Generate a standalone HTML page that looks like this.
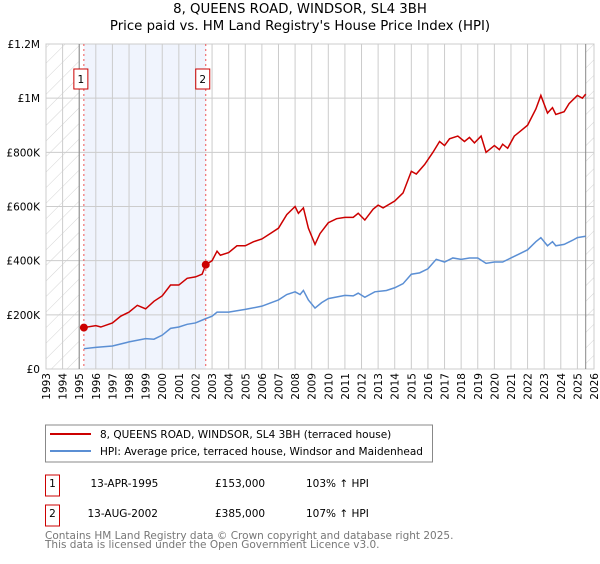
<!DOCTYPE html>
<html><head><meta charset="utf-8"><style>
body{margin:0;background:#fff;font-family:"DejaVu Sans","Liberation Sans",sans-serif;}
svg text{font-family:"DejaVu Sans","Liberation Sans",sans-serif;}
</style></head><body>
<svg width="600" height="560" xmlns="http://www.w3.org/2000/svg" id="c">
<defs><pattern id="hatch" width="11" height="11" patternUnits="userSpaceOnUse" patternTransform="rotate(45)"><line x1="0" y1="0" x2="0" y2="11" stroke="#d4d4d4" stroke-width="1"/></pattern></defs>
<text x="300" y="13" text-anchor="middle" font-size="13.3">8, QUEENS ROAD, WINDSOR, SL4 3BH</text>
<text x="300" y="30" text-anchor="middle" font-size="13.3">Price paid vs. HM Land Registry's House Price Index (HPI)</text>
<g id="plot"></g>
<g>
<rect x="45.5" y="425" width="387" height="37" fill="#fff" stroke="#888"/>
<line x1="50" y1="434" x2="91" y2="434" stroke="#cc0000" stroke-width="2"/>
<text x="100" y="438" font-size="10.5">8, QUEENS ROAD, WINDSOR, SL4 3BH (terraced house)</text>
<line x1="50" y1="451" x2="91" y2="451" stroke="#5b8fd4" stroke-width="2"/>
<text x="100" y="455" font-size="10.5">HPI: Average price, terraced house, Windsor and Maidenhead</text>
</g>
<g font-size="10.5">
<rect x="45.5" y="475" width="14" height="21" fill="none" stroke="#cc0000"/><text x="52.5" y="487" text-anchor="middle">1</text>
<text x="90.5" y="487">13-APR-1995</text><text x="215" y="487">£153,000</text><text x="306" y="487">103% ↑ HPI</text>
<rect x="45.5" y="505" width="14" height="21" fill="none" stroke="#cc0000"/><text x="52.5" y="517" text-anchor="middle">2</text>
<text x="87.5" y="517">13-AUG-2002</text><text x="215" y="517">£385,000</text><text x="306" y="517">107% ↑ HPI</text>
</g>
<text x="45" y="539" font-size="10.5" fill="#777">Contains HM Land Registry data © Crown copyright and database right 2025.</text>
<text x="45" y="548" font-size="10.5" fill="#777">This data is licensed under the Open Government Licence v3.0.</text>
</svg>
<script>
const yTicks=[0,200000,400000,600000,800000,1000000,1200000];
const yTickLabels=["£0","£200K","£400K","£600K","£800K","£1M","£1.2M"];
const years=[1993,1994,1995,1996,1997,1998,1999,2000,2001,2002,2003,2004,2005,2006,2007,2008,2009,2010,2011,2012,2013,2014,2015,2016,2017,2018,2019,2020,2021,2022,2023,2024,2025,2026];
const redT=[1995.28,1996,1996.3,1997,1997.5,1998,1998.5,1999,1999.5,2000,2000.5,2001,2001.5,2002,2002.4,2002.62,2003,2003.3,2003.5,2004,2004.5,2005,2005.5,2006,2006.5,2007,2007.5,2008,2008.2,2008.5,2008.8,2009.2,2009.5,2010,2010.5,2011,2011.5,2011.8,2012.2,2012.7,2013,2013.3,2014,2014.5,2015,2015.3,2015.8,2016.3,2016.7,2017,2017.3,2017.8,2018.2,2018.5,2018.8,2019.2,2019.5,2020,2020.3,2020.5,2020.8,2021.2,2021.5,2022,2022.5,2022.8,2023.2,2023.5,2023.7,2024.2,2024.5,2025,2025.3,2025.5];
const redV=[153,160,155,170,195,210,235,222,250,270,310,310,335,340,350,385,400,435,420,430,455,455,470,480,500,520,570,600,575,595,520,460,500,540,555,560,560,575,550,590,605,595,620,650,730,720,755,800,840,825,850,860,840,855,835,860,800,825,810,830,815,860,875,900,960,1010,945,965,940,950,980,1010,1000,1015];
const blueT=[1995.28,1996,1997,1998,1999,1999.5,2000,2000.5,2001,2001.5,2002,2002.62,2003,2003.3,2004,2005,2006,2007,2007.5,2008,2008.3,2008.5,2008.8,2009.2,2009.6,2010,2011,2011.5,2011.8,2012.2,2012.8,2013.5,2014,2014.5,2015,2015.5,2016,2016.5,2017,2017.5,2018,2018.5,2019,2019.5,2020,2020.5,2021,2021.5,2022,2022.5,2022.8,2023.2,2023.5,2023.7,2024.2,2024.7,2025,2025.5];
const blueV=[75,80,85,100,112,110,125,150,155,165,170,186,195,210,210,220,232,255,275,285,275,290,255,225,245,260,272,270,280,265,285,290,300,315,350,355,370,405,395,410,405,410,410,390,395,395,410,425,440,470,485,455,470,455,460,475,485,490];
const sales=[{t:1995.28,v:153000,n:"1"},{t:2002.62,v:385000,n:"2"}];
const X0=46,X1=594,Y0=369,Y1=44;
const x=t=>X0+(t-1993)/(2026-1993)*(X1-X0);
const y=v=>Y0-v/1200000*(Y0-Y1);
const ns="http://www.w3.org/2000/svg",g=document.getElementById('plot');
function mk(tag,a,p){const e=document.createElementNS(ns,tag);for(const k in a)e.setAttribute(k,a[k]);(p||g).appendChild(e);return e;}
let e;
e=mk('rect',{x:X0,y:Y1,width:X1-X0,height:Y0-Y1,fill:'#fff',stroke:'#ccc'});

e=mk('rect',{x:X0,y:Y1,width:x(1995)-X0,height:Y0-Y1,fill:'url(#hatch)'});

e=mk('rect',{x:x(2025.5),y:Y1,width:X1-x(2025.5),height:Y0-Y1,fill:'url(#hatch)'});

e=mk('rect',{x:x(sales[0].t),y:Y1,width:x(sales[1].t)-x(sales[0].t),height:Y0-Y1,fill:'#f0f4fd'});

years.forEach(yr=>{
 e=mk('line',{x1:x(yr),x2:x(yr),y1:Y1,y2:Y0,stroke:'#ccc','stroke-width':1});
 
 e=mk('text',{x:0,y:0,'font-size':10.5,'text-anchor':'end',transform:`translate(${x(yr)+4},${Y0+4}) rotate(-90)`});
 e.textContent=yr;
 
});
yTicks.forEach((v,i)=>{
 e=mk('line',{x1:X0,x2:X1,y1:y(v),y2:y(v),stroke:'#ccc','stroke-width':1});
 
 e=mk('text',{x:X0-6,y:y(v)+4,'font-size':10.5,'text-anchor':'end'});
 e.textContent=yTickLabels[i];
 
});
e=mk('line',{x1:x(1995),x2:x(1995),y1:Y1,y2:Y0,stroke:'#888'});

e=mk('line',{x1:x(2025.5),x2:x(2025.5),y1:Y1,y2:Y0,stroke:'#888'});

e=mk('polyline',{points:blueT.map((t,i)=>x(t)+','+y(blueV[i]*1000)).join(' '),fill:'none',stroke:'#5b8fd4','stroke-width':1.5});

e=mk('polyline',{points:redT.map((t,i)=>x(t)+','+y(redV[i]*1000)).join(' '),fill:'none',stroke:'#cc0000','stroke-width':1.5});

sales.forEach(s=>{
 e=mk('line',{x1:x(s.t),x2:x(s.t),y1:Y1,y2:Y0,stroke:'#e55','stroke-dasharray':'2,3'});
 
 e=mk('circle',{cx:x(s.t),cy:y(s.v),r:4,fill:'#cc0000'});
 
 e=mk('rect',{x:x(s.t)-10,y:69,width:14,height:20,fill:'#fff',stroke:'#cc0000'});
 
 e=mk('text',{x:x(s.t)-3,y:83,'font-size':10.5,'text-anchor':'middle'});
 e.textContent=s.n;
 
});
</script>
</body></html>
